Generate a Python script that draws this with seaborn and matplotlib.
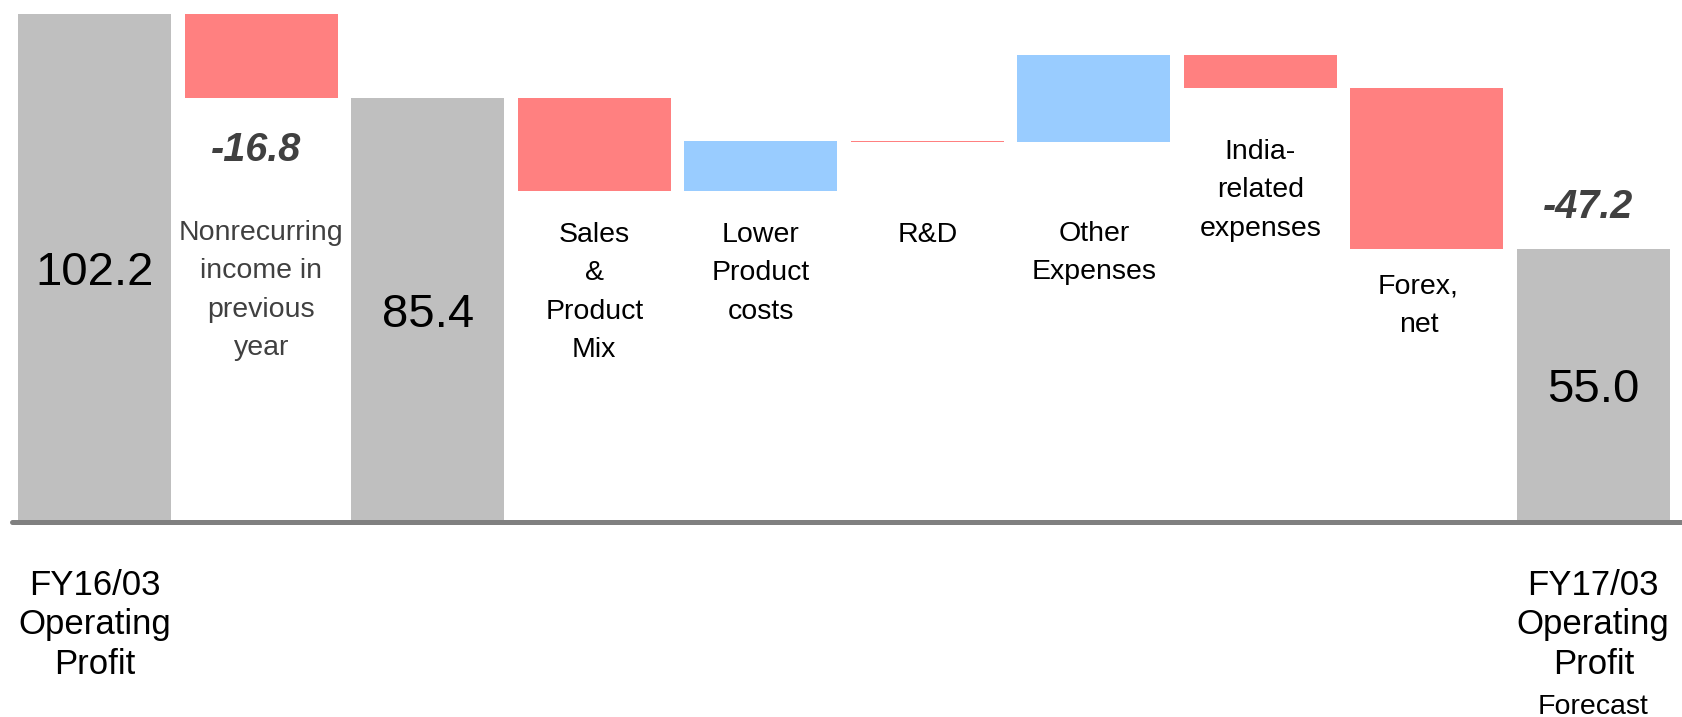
import numpy as np
import pandas as pd
import seaborn as sns
import matplotlib.pyplot as plt

# waterfall data
steps = ["FY16/03", "Nonrecurring", "Subtotal", "Sales", "Lower", "R&D",
         "Other", "India", "Forex", "FY17/03"]
kinds = ["total", "delta", "total", "delta", "delta", "delta",
         "delta", "delta", "delta", "total"]
values = [102.2, -16.8, 85.4, -18.8, 10.1, -0.3, 17.5, -6.5, -32.4, 55.0]

step_labels = ["", "Nonrecurring\nincome in\nprevious\nyear", "", "Sales\n&\nProduct\nMix",
               "Lower\nProduct\ncosts", "R&D", "Other\nExpenses",
               "India-\nrelated\nexpenses", "Forex,\nnet", ""]
label_y = [None, 60.7, None, 60.3, 60.3, 60.3, 60.5, 77.0, 49.9, None]
change_notes = {1: ("-16.8", 74.8), 9: ("-47.2", 63.3)}
axis_labels = {0: "FY16/03\nOperating\nProfit", 9: "FY17/03\nOperating\nProfit"}

GREY = "#BFBFBF"
RED = "#FF8080"
BLUE = "#99CCFF"

# floating bar bottoms / heights
bottoms, heights = [], []
level = 0.0
for k, v in zip(kinds, values):
    if k == "total":
        bottoms.append(0.0)
        heights.append(v)
        level = v
    else:
        bottoms.append(level)
        heights.append(v)
        level += v

df = pd.DataFrame({"step": steps, "height": heights})

sns.set_style("white")
plt.rcParams["font.family"] = ["Liberation Sans", "DejaVu Sans"]

fig = plt.figure(figsize=(16.82, 7.17), dpi=100)
ax = fig.add_axes([11.5 / 1682, 195 / 717, 1665 / 1682, 508 / 717])

sns.barplot(data=df, x="step", y="height", order=steps, bottom=bottoms,
            color=GREY, width=0.916, saturation=1, errorbar=None, ax=ax, zorder=2)

for p, k, v in zip(ax.patches, kinds, values):
    if k == "total":
        p.set_facecolor(GREY)
    else:
        p.set_facecolor(RED if v < 0 else BLUE)
    p.set_edgecolor("none")

ax.set_xlim(-0.5, len(steps) - 0.5)
ax.set_ylim(0, 102.2)
ax.axhline(0, xmin=0, xmax=1.006, color="#808080", lw=3.6, clip_on=False, zorder=3)
sns.despine(ax=ax, left=True, bottom=True)
ax.set_xticks([])
ax.set_yticks([])
ax.set_xlabel("")
ax.set_ylabel("")

# totals
for i, (k, v) in enumerate(zip(kinds, values)):
    if k == "total":
        ax.text(i, v / 2 - 1, f"{v:.1f}", ha="center", va="center", fontsize=34, color="black")

# step descriptions
for i, (lab, y) in enumerate(zip(step_labels, label_y)):
    if not lab:
        continue
    col = "#404040" if i == 1 else "black"
    dx = -0.05 if i == 8 else 0
    ax.text(i + dx, y, lab, ha="center", va="top", fontsize=20.5, color=col,
            linespacing=1.61)

for i, (txt, y) in change_notes.items():
    ax.text(i - 0.03, y, txt, ha="center", va="center", fontsize=28.5,
            fontweight="bold", fontstyle="italic", color="#404040")

for i, txt in axis_labels.items():
    ax.text(i, -9.4, txt, ha="center", va="top", fontsize=25, color="black",
            linespacing=1.25, clip_on=False)
ax.text(9, -34.6, "Forecast", ha="center", va="top", fontsize=20.5, color="black",
        clip_on=False)

fig.savefig("out.png", dpi=100)
